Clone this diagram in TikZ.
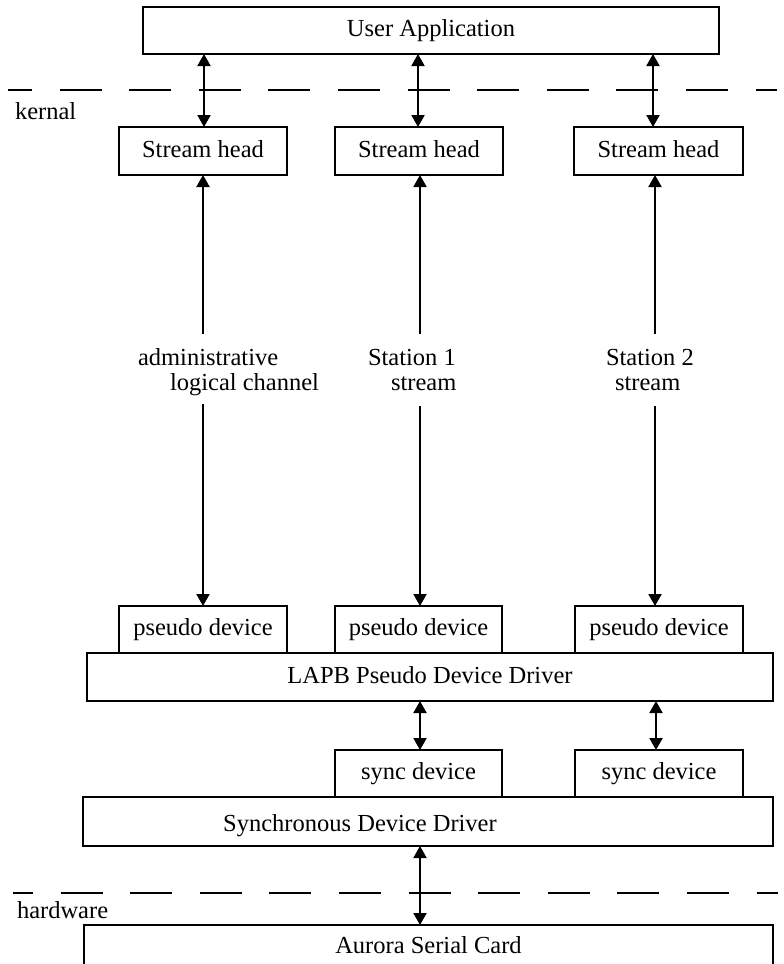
\documentclass[tikz,border=0pt]{standalone}
\usepackage{fontspec}
\setmainfont{Liberation Serif}
\usetikzlibrary{arrows.meta}
\begin{document}
\begin{tikzpicture}[x=1pt,y=-1pt,
  every node/.style={font=\fontsize{24.5}{29}\selectfont, inner sep=0pt, outer sep=0pt},
  box/.style={draw, line width=2pt, rectangle, text height=16pt, text depth=4pt},
  txt/.style={text height=16pt, text depth=4pt},
  lbl/.style={anchor=base west},
  tipA/.tip={Triangle[length=12pt,width=13pt]},
  link/.style={line width=2pt},
  dblarrow/.style={link, tipA-tipA},
  uparrow/.style={link, tipA-},
  downarrow/.style={link, -tipA},
  layerline/.style={line width=2pt, dash pattern=on 42pt off 27.6pt}
]
\useasboundingbox (0,0) rectangle (784,964);
\clip (0,0) rectangle (784,964);
\fill[white] (0,0) rectangle (784,964);

% top application
\node[box, minimum width=576pt, minimum height=47pt] (ua) at (431,30.5) {User Application};

% kernel boundary
\coordinate (k1) at (8,90);
\coordinate (k2) at (777,90);
\draw[layerline, dash phase=18pt] (k1) -- (k2);
\node[lbl] (kern) at (15,119) {kernal};

% stream heads
\node[box, minimum width=168pt, minimum height=48pt] (sh1) at (203,151) {Stream head};
\node[box, minimum width=168pt, minimum height=48pt] (sh2) at (419,151) {Stream head};
\node[box, minimum width=169pt, minimum height=48pt] (sh3) at (658.5,151) {Stream head};

% column positions
\coordinate (u1) at (204,0);
\coordinate (u2) at (418,0);
\coordinate (u3) at (653,0);
\coordinate (c1) at (203,0);
\coordinate (c2) at (420,0);
\coordinate (c3) at (655,0);

\draw[dblarrow] (ua.south -| u1) -- (sh1.north -| u1);
\draw[dblarrow] (ua.south -| u2) -- (sh2.north -| u2);
\draw[dblarrow] (ua.south -| u3) -- (sh3.north -| u3);

% stream labels
\node[lbl] (a1) at (138,365) {administrative};
\node[lbl] (a2) at (170,390) {logical channel};
\node[lbl] (b1) at (368,365) {Station 1};
\node[lbl] (b2) at (391,390) {stream};
\node[lbl] (d1) at (606,365) {Station 2};
\node[lbl] (d2) at (615,390) {stream};

\coordinate (g1t) at (203,334);
\coordinate (g1b) at (203,404);
\coordinate (g2t) at (420,334);
\coordinate (g2b) at (420,406);
\coordinate (g3t) at (655,334);
\coordinate (g3b) at (655,406);

% pseudo devices and LAPB driver
\node[box, minimum width=168pt, minimum height=47pt] (pd1) at (203,629.5) {pseudo device};
\node[box, minimum width=167pt, minimum height=47pt] (pd2) at (418.5,629.5) {pseudo device};
\node[box, minimum width=168pt, minimum height=47pt] (pd3) at (659,629.5) {pseudo device};
\node[box, minimum width=686pt, minimum height=48pt] (lapb) at (430,677) {LAPB Pseudo Device Driver};

\draw[uparrow] (sh1.south -| c1) -- (g1t);
\draw[downarrow] (g1b) -- (pd1.north -| c1);
\draw[uparrow] (sh2.south -| c2) -- (g2t);
\draw[downarrow] (g2b) -- (pd2.north -| c2);
\draw[uparrow] (sh3.south -| c3) -- (g3t);
\draw[downarrow] (g3b) -- (pd3.north -| c3);

% sync devices and synchronous driver
\node[box, minimum width=167pt, minimum height=47pt] (sd1) at (418.5,773.5) {sync device};
\node[box, minimum width=168pt, minimum height=47pt] (sd2) at (659,773.5) {sync device};
\node[box, minimum width=690pt, minimum height=49pt] (sdd) at (428,821.5) {};
\node[txt] (sddt) at (360,825) {Synchronous Device Driver};

\coordinate (l1) at (420,0);
\coordinate (l2) at (656,0);
\draw[dblarrow] (lapb.south -| l1) -- (sd1.north -| l1);
\draw[dblarrow] (lapb.south -| l2) -- (sd2.north -| l2);

% hardware boundary
\coordinate (h1) at (13,893);
\coordinate (h2) at (778,893);
\draw[layerline, dash phase=22pt] (h1) -- (h2);
\node[lbl] (hw) at (17,918) {hardware};

% serial card
\node[box, minimum width=689pt, minimum height=44pt] (asc) at (428.5,947) {Aurora Serial Card};
\draw[dblarrow] (sdd.south -| l1) -- (asc.north -| l1);
\end{tikzpicture}
\end{document}
